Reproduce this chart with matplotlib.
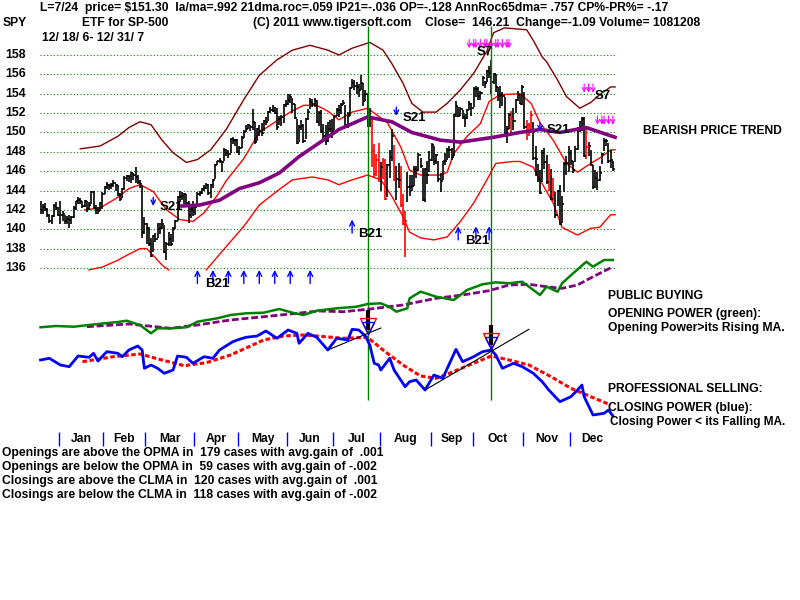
import matplotlib
matplotlib.use("Agg")
import matplotlib.pyplot as plt
import numpy as np

plt.rcParams['font.family'] = ['Liberation Sans', 'DejaVu Sans']
plt.rcParams['font.weight'] = 'bold'

# daily bars, day 0 = 12/18/06, last = 12/31/07
closes = [142.0, 142.3, 142.1, 141.5, 140.8, 141.4, 142.4, 142.2, 141.5,
          141.5, 141.6, 140.8, 141.1, 141.0, 141.3, 142.2, 142.9, 143.0, 142.9, 142.4, 142.9, 142.1, 142.5, 143.8, 142.2, 142.0, 141.9, 142.7, 143.6,
          144.4, 144.6, 144.5, 144.6, 144.8, 144.6, 143.6, 143.1, 144.2, 145.3, 145.5, 145.4, 145.8, 145.6, 145.4, 144.9, 144.7, 139.7, 140.5,
          140.1, 138.5, 137.2, 139.3, 139.0, 140.0, 140.1, 140.5, 137.6, 138.5, 139.0, 138.5, 140.0, 140.9, 143.3, 143.3, 143.4, 143.6, 142.7, 141.5, 142.1, 141.9,
          142.3, 143.6, 143.7, 144.2, 144.3, 144.6, 143.7, 144.6, 145.1, 146.6, 147.0, 147.1, 146.9, 148.2, 147.9, 147.8, 149.3, 149.2, 149.2, 148.0,
          148.4, 149.4, 150.0, 150.4, 150.8, 150.6, 151.1, 149.0, 150.4, 150.1, 149.9, 151.2, 151.1, 152.1, 152.3, 152.2, 152.0, 150.6, 151.4, 151.6, 152.8, 152.9,
          153.4, 153.7, 152.9, 151.5, 148.9, 150.6, 150.7, 149.1, 151.4, 152.1, 153.1, 152.9, 153.2, 151.1, 152.0, 150.1, 149.6, 149.1, 150.4, 150.4, 150.1,
          151.7, 152.3, 152.3, 152.8, 153.0, 150.8, 151.7, 154.6, 155.1, 154.8, 154.7, 154.4, 155.1, 153.2, 154.0, 150.9, 151.6, 148.1, 145.7, 147.2, 145.3,
          146.4, 147.0, 143.1, 146.6, 147.5, 149.6, 145.1, 145.2, 145.1, 142.5, 140.5, 140.9, 144.4, 144.4, 144.5, 146.2, 146.1, 147.7, 146.5, 143.0, 146.2, 145.6, 147.2,
          148.7, 147.0, 147.7, 145.2, 145.0, 147.0, 147.0, 148.2, 148.2, 147.5, 151.8, 152.7, 151.7, 152.4, 151.6, 151.5, 152.3, 152.9, 152.5,
          154.5, 154.5, 153.8, 154.1, 155.6, 155.1, 156.3, 156.1, 155.2, 156.0, 154.7, 153.7, 153.9, 153.8, 149.9, 150.4, 151.8, 151.4, 151.2, 153.3, 153.9, 152.9, 154.7,
          150.6, 150.8, 150.0, 151.8, 147.4, 147.3, 145.2, 143.7, 147.9, 146.9, 144.9, 145.7, 143.1, 143.8, 141.5, 143.9, 140.5, 142.6, 146.7, 146.8, 147.9,
          147.0, 146.1, 148.3, 150.5, 150.3, 151.4, 147.6, 148.5, 148.6, 146.6, 144.4, 145.3, 145.1, 145.8, 147.8, 149.1, 149.1, 147.0, 147.2, 146.2]
highs = [142.9, 142.6, 142.7, 142.2, 141.6, 141.5, 142.6, 142.8, 142.3,
         142.9, 141.9, 141.5, 141.4, 141.5, 141.4, 142.4, 142.9, 143.3, 143.2, 142.9, 143.0, 142.9, 142.8, 143.9, 143.9, 142.5, 142.3, 142.8, 143.8,
         144.5, 144.9, 144.7, 144.8, 145.1, 144.7, 144.6, 143.7, 144.3, 145.5, 145.6, 145.6, 145.9, 145.8, 146.4, 145.6, 145.1, 144.6, 141.3,
         140.6, 140.2, 139.1, 139.4, 139.6, 140.6, 140.6, 141.1, 140.4, 138.7, 139.7, 139.5, 140.2, 141.0, 143.4, 143.9, 143.8, 143.7, 143.6, 142.9, 142.5, 142.9,
         142.5, 143.8, 144.0, 144.3, 144.6, 144.8, 144.7, 144.7, 145.2, 146.7, 147.1, 147.4, 147.0, 148.4, 148.3, 148.2, 149.4, 149.5, 149.3, 149.3,
         148.6, 149.6, 150.3, 150.8, 150.9, 150.8, 152.4, 151.1, 150.5, 150.8, 151.0, 151.3, 151.6, 152.2, 152.6, 152.8, 152.6, 152.5, 151.7, 151.8, 152.9, 153.3,
         154.0, 154.0, 153.6, 152.9, 151.4, 150.8, 151.3, 150.9, 151.5, 152.4, 153.6, 153.5, 153.6, 153.3, 152.2, 152.3, 150.9, 150.8, 151.1, 151.3, 151.4,
         151.8, 152.5, 152.8, 153.0, 153.4, 152.8, 152.1, 154.7, 155.5, 155.4, 155.2, 155.0, 155.9, 155.1, 154.4, 154.0, 152.5, 151.5, 148.8, 147.8, 148.9,
         146.9, 147.4, 147.3, 146.7, 148.2, 150.4, 148.7, 146.5, 146.8, 146.5, 143.6, 141.9, 145.9, 145.6, 145.6, 146.5, 146.5, 147.9, 147.4, 146.3, 146.3, 147.0, 148.1,
         148.9, 148.6, 147.8, 147.1, 145.8, 147.1, 147.9, 148.4, 148.6, 148.4, 151.9, 153.2, 152.6, 152.6, 152.3, 151.9, 152.4, 153.2, 153.0,
         154.7, 154.8, 154.7, 154.3, 155.8, 155.3, 156.4, 156.9, 157.5, 156.1, 156.0, 154.7, 154.8, 154.2, 153.7, 150.7, 152.0, 152.2, 152.5, 153.5, 154.3, 154.0, 154.9,
         154.2, 151.3, 151.0, 152.2, 151.1, 148.6, 146.7, 146.1, 148.2, 148.4, 147.7, 146.7, 146.2, 145.3, 143.8, 144.1, 144.6, 143.4, 146.9, 147.6, 148.6,
         148.2, 147.1, 148.6, 150.6, 151.2, 151.6, 151.6, 150.6, 149.0, 148.2, 146.6, 146.1, 145.9, 146.5, 147.9, 149.4, 149.3, 148.9, 148.2, 147.1]
lows = [141.6, 141.6, 141.9, 141.3, 140.6, 140.5, 141.3, 142.0, 141.4,
        140.5, 140.9, 140.5, 140.5, 140.1, 140.5, 141.2, 142.0, 142.6, 142.6, 142.2, 142.3, 141.8, 142.0, 142.6, 142.1, 141.6, 141.6, 141.9, 142.1,
        143.6, 144.2, 144.1, 144.2, 144.4, 143.9, 143.4, 142.9, 143.2, 144.1, 145.0, 144.9, 144.8, 145.1, 144.8, 144.7, 144.3, 139.1, 139.5,
        138.5, 138.3, 137.1, 137.7, 138.7, 139.1, 139.5, 140.0, 137.5, 136.8, 138.3, 138.3, 138.7, 140.0, 140.8, 142.8, 143.0, 142.6, 142.4, 140.6, 141.2, 141.4,
        141.5, 142.4, 143.4, 143.6, 144.0, 144.2, 143.5, 143.2, 144.3, 145.2, 146.6, 146.8, 145.9, 147.0, 147.6, 147.4, 147.9, 148.8, 148.6, 147.9,
        147.7, 148.4, 149.4, 150.0, 150.4, 150.1, 150.3, 148.8, 149.1, 149.6, 149.6, 150.1, 150.8, 151.2, 152.0, 152.1, 151.9, 150.3, 150.8, 150.7, 151.0, 152.6,
        152.8, 153.0, 152.0, 151.4, 148.8, 149.0, 150.3, 148.9, 149.3, 151.3, 152.4, 152.6, 152.6, 151.0, 150.7, 149.9, 149.3, 148.7, 149.0, 150.0, 149.4,
        150.3, 151.7, 151.6, 151.9, 152.8, 150.7, 150.5, 151.7, 154.6, 154.4, 154.0, 153.7, 154.4, 152.7, 153.2, 150.6, 150.6, 146.4, 145.4, 145.5, 144.9,
        143.9, 145.2, 143.0, 143.3, 145.3, 147.0, 145.0, 143.0, 144.3, 142.3, 140.4, 137.1, 142.8, 143.4, 143.9, 144.5, 145.3, 146.0, 146.3, 142.9, 142.8, 144.7, 145.9,
        147.0, 146.6, 146.7, 144.9, 143.8, 145.1, 146.6, 147.2, 147.4, 147.2, 147.6, 151.6, 151.6, 151.7, 151.4, 150.6, 151.4, 152.3, 151.7,
        152.6, 153.7, 153.3, 153.3, 154.8, 154.6, 155.2, 155.6, 154.0, 155.0, 154.2, 153.2, 152.5, 152.7, 149.7, 148.9, 150.4, 149.7, 150.3, 152.0, 153.2, 152.9, 152.8,
        150.4, 149.2, 149.6, 150.2, 147.2, 145.5, 144.9, 143.6, 144.9, 146.2, 144.7, 144.0, 143.0, 142.9, 141.2, 142.4, 140.4, 140.6, 143.8, 145.6, 145.9,
        146.6, 145.8, 146.9, 148.2, 150.0, 150.1, 147.5, 147.3, 147.6, 146.5, 144.2, 144.3, 144.1, 145.0, 146.7, 148.1, 148.6, 146.8, 146.3, 146.0]
red_days = [150, 151, 152, 153, 155, 156, 160, 163, 164, 165, 213, 220, 221, 222, 230, 232, 247]

month_names = ['Jan', 'Feb', 'Mar', 'Apr', 'May', 'Jun', 'Jul', 'Aug', 'Sep', 'Oct', 'Nov', 'Dec']
month_start = [9, 29, 48, 70, 90, 112, 133, 154, 177, 196, 219, 240]
grid_prices = [136, 138, 140, 142, 144, 146, 148, 150, 152, 154, 156, 158]

# bands and moving average, read at a few days
outer_days = [18, 27, 35, 40, 45, 50, 55, 60, 66, 71, 77, 84, 92, 99, 107, 114, 122, 130, 135, 141, 149, 155, 159, 164, 168, 173, 179, 184, 190, 196, 202, 205, 210, 220, 223, 227, 229, 234, 238, 244, 249, 253, 258, 260]
outer_vals = [148.3, 148.6, 149.6, 150.5, 151.1, 150.8, 149.2, 147.9, 146.9, 147.2, 148.2, 150.3, 153.4, 155.9, 157.5, 158.5, 159.0, 158.5, 158.0, 158.7, 159.3, 158.5, 157.1, 155.1, 153.0, 152.1, 152.1, 153.0, 154.4, 156.1, 158.4, 160.3, 160.8, 160.6, 159.5, 157.8, 157.3, 155.4, 153.7, 152.5, 153.1, 153.9, 154.7, 154.7]
upper_days = [20, 27, 35, 40, 45, 51, 57, 63, 69, 74, 80, 84, 92, 99, 113, 119, 125, 130, 135, 141, 148, 157, 163, 167, 172, 181, 184, 187, 193, 199, 203, 208, 217, 222, 226, 232, 238, 243, 249, 254, 258, 260]
upper_vals = [142.0, 142.2, 143.3, 144.2, 144.6, 143.9, 142.0, 141.0, 140.8, 141.7, 143.5, 145.0, 147.3, 150.0, 152.1, 152.8, 152.8, 152.2, 151.3, 152.1, 152.5, 151.0, 148.5, 146.1, 145.6, 145.6, 145.9, 147.8, 149.6, 150.9, 153.2, 153.9, 154.0, 153.0, 151.0, 149.2, 146.8, 145.9, 146.8, 147.5, 148.2, 148.2]
lower_days = [22, 28, 35, 39, 45, 48, 51, 55, 58, 66, 75, 84, 92, 99, 108, 114, 123, 130, 135, 141, 148, 154, 159, 164, 167, 172, 178, 184, 190, 196, 202, 206, 214, 217, 223, 226, 232, 236, 243, 249, 253, 258, 260]
lower_vals = [135.8, 136.1, 136.8, 137.3, 138.0, 138.0, 137.3, 136.3, 135.8, np.nan, 135.8, 138.2, 140.3, 142.5, 144.1, 145.1, 145.4, 145.1, 144.6, 145.1, 145.6, 145.1, 143.4, 141.3, 139.7, 139.1, 138.9, 139.2, 140.8, 142.7, 145.1, 146.8, 147.0, 147.0, 146.4, 145.1, 142.7, 140.2, 139.4, 140.1, 140.2, 141.5, 141.5]
ma50_days = [64, 72, 81, 90, 99, 108, 117, 126, 135, 148, 159, 168, 181, 190, 205, 217, 226, 235, 247, 260]
ma50_vals = [142.4, 142.5, 143.0, 144.2, 144.8, 145.8, 147.5, 148.9, 150.3, 151.6, 151.1, 150.0, 149.2, 149.0, 149.5, 150.0, 150.3, 150.0, 150.5, 149.5]

# opening power (green) and closing power (blue), no scale shown
op_days = [0, 7, 15, 26, 35, 39, 45, 50, 53, 59, 66, 71, 80, 86, 93, 101, 108, 114, 119, 125, 134, 143, 148, 154, 158, 161, 166, 167, 172, 179, 187, 193, 200, 206, 212, 218, 223, 226, 229, 234, 236, 241, 247, 250, 255, 259]
op_vals = [92.7, 94, 93.3, 96, 98, 99.3, 95, 86.7, 91.7, 91.7, 92.7, 98.3, 101.7, 105, 106.7, 107.3, 111, 107.3, 105, 109.3, 111.7, 113.3, 116, 116.7, 113, 108.3, 111.7, 121.7, 128.3, 123.3, 120, 130, 135.7, 137.7, 136.7, 138.3, 130, 125, 133.3, 128.3, 136.7, 146.7, 158.3, 153.3, 160, 160]
opma_days = [21, 40, 59, 71, 86, 101, 116, 126, 137, 148, 164, 179, 191, 203, 212, 221, 231, 236, 243, 250, 259]
opma_vals = [93.3, 96, 91.7, 95, 100, 103.3, 106.7, 109, 108.3, 110.7, 115, 121.7, 125, 129.3, 135, 135.7, 132.7, 131.7, 135, 143.3, 153.3]
cp_days = [0, 4, 9, 13, 17, 22, 24, 26, 30, 35, 37, 40, 44, 46, 47, 50, 53, 56, 60, 62, 66, 69, 74, 78, 81, 87, 90, 93, 98, 102, 107, 112, 116, 117, 121, 125, 130, 134, 139, 141, 144, 147, 149, 151, 153, 154, 158, 160, 165, 167, 170, 174, 178, 182, 188, 191, 196, 200, 204, 206, 209, 214, 218, 223, 227, 230, 235, 240, 243, 245, 246, 250, 255, 257, 259]
cp_vals = [60, 61.7, 55, 53.3, 64, 62.7, 66.7, 59, 68.3, 66.7, 63.3, 70, 74, 70, 51.7, 55, 51.7, 46.7, 50, 64, 62.7, 56.7, 63.3, 61.7, 70, 78.3, 80.7, 82.7, 84, 89, 81.7, 90, 86.7, 76.7, 86.7, 82.7, 70, 81.7, 80, 90.7, 90, 84, 75, 56.7, 55, 50, 61.7, 50, 33.3, 38.3, 40, 30, 45, 41.7, 70.7, 58.3, 63.3, 68.3, 70, 65, 51.7, 56.7, 53.3, 46.7, 38.3, 30, 18.3, 23.3, 30, 35, 23.3, 5, 6.7, 10, 4]
cpma_days = [19, 33, 45, 55, 65, 75, 86, 101, 110, 119, 125, 137, 148, 155, 164, 172, 179, 185, 194, 204, 212, 221, 231, 240, 249, 258]
cpma_vals = [58.3, 63.3, 66, 60, 54.3, 57.3, 65, 80, 84, 85, 84, 81.7, 82.7, 70, 55, 44, 41.7, 46.7, 55, 64, 60, 55, 43.3, 31.7, 23.3, 15]
trend_days = [[130, 154], [174, 221]]
trend_vals = [[70, 92], [30, 90.7]]

# signals
sell_days = [148, 204]
b21_days = [71, 78, 85, 92, 99, 106, 113, 122, 141, 189, 197, 203]
b21_tail = [134.4] * 8 + [139.6, 138.9, 138.9, 138.9]
s21_days = [51, 161, 226]
s21_top = [143.3, 152.6, 151.0]
s7_groups = [[194, 196, 197, 199, 201, 202, 204, 206, 207, 209, 211, 212], [246, 248, 250], [252, 254, 255, 257, 259]]
s7_top = [159.6, 155.0, 151.7]

fig = plt.figure(figsize=(8, 6), dpi=100)
fig.patch.set_facecolor('white')
ax = fig.add_axes([0, 0, 1, 1])
ax2 = fig.add_axes([0, 0, 1, 1])
for a in (ax, ax2):
    a.set_xlim(-40.5 / 2.21, (800 - 40.5) / 2.21)
    a.axis('off')
    a.patch.set_alpha(0)
ax.set_ylim(101.70, 163.68)
ax2.set_ylim(-180, 420)


def px(x, y):
    return x / 800, 1 - y / 600


def put(x, y, s, size=8.7, **kw):
    fig.text(*px(x, y), s, fontsize=size, fontweight='bold', va='center', ha='left', **kw)


ax.hlines(grid_prices, -0.2, 260, color='#008000', lw=0.8, linestyle=(0, (1, 2)), zorder=1)

ax.plot(outer_days, outer_vals, color='#800000', lw=1.0, zorder=2)
ax.plot(upper_days, upper_vals, color='red', lw=1.0, zorder=2)
ax.plot(lower_days, lower_vals, color='red', lw=1.0, zorder=2)

x = np.arange(len(closes))
cols = ['red' if i in red_days else 'black' for i in x]
ax.vlines(x, lows, highs, colors=cols, lw=1.2, zorder=3)
ax.hlines(closes, x, x + 1.0, colors=cols, lw=1.2, zorder=3)

ax.plot(ma50_days, ma50_vals, color='#800080', lw=2.6, zorder=4)

# sell lines
ax.vlines(sell_days, 1 - 400 / 600, 1 - 26 / 600, transform=ax.get_xaxis_transform(), color='#008000', lw=1.0, zorder=5)

# power lines
ax2.plot(opma_days, opma_vals, color='#800080', lw=2.0, linestyle=(0, (2.5, 1)), zorder=3)
ax2.plot(op_days, op_vals, color='#008000', lw=1.8, zorder=4)
ax2.plot(cpma_days, cpma_vals, color='red', lw=2.2, linestyle=(0, (1.5, 0.8)), zorder=3)
ax2.plot(cp_days, cp_vals, color='blue', lw=2.0, zorder=4)
for d, v in zip(trend_days, trend_vals):
    ax2.plot(d, v, color='black', lw=0.8, zorder=5)
ax2.vlines(sell_days[0], 90, 110, color='black', lw=3, zorder=6)
ax2.vlines(sell_days[1], 75, 95, color='black', lw=3, zorder=6)
ax2.plot([sell_days[0]], [94], marker='v', ms=11, mfc='none', mec='red', mew=1, zorder=7)
ax2.plot([sell_days[0]], [92], marker='v', ms=9, mfc='none', mec='blue', mew=1, zorder=7)
ax2.plot([sell_days[1]], [79], marker='v', ms=11, mfc='none', mec='red', mew=1, zorder=7)
ax2.plot([sell_days[1]], [77], marker='v', ms=9, mfc='none', mec='blue', mew=1, zorder=7)

# buy/sell arrows
for d, t in zip(b21_days, b21_tail):
    ax.annotate('', xy=(d, t + 1.4), xytext=(d, t),
                arrowprops=dict(arrowstyle='->', color='blue', lw=1, shrinkA=0, shrinkB=0, mutation_scale=9), zorder=6)
for d, t in zip(s21_days, s21_top):
    ax.annotate('', xy=(d, t - 0.9), xytext=(d, t),
                arrowprops=dict(arrowstyle='->', color='blue', lw=1, shrinkA=0, shrinkB=0, mutation_scale=8), zorder=6)
for grp, t in zip(s7_groups, s7_top):
    for d in grp:
        ax.annotate('', xy=(d, t - 0.9), xytext=(d, t),
                    arrowprops=dict(arrowstyle='->', color='magenta', lw=0.8, shrinkA=0, shrinkB=0, mutation_scale=7), zorder=6)

put(160, 207, 'S21', 9.5)
put(205, 284, 'B21', 9.5)
put(358, 234, 'B21', 9.5)
put(403, 118, 'S21', 9.5)
put(465, 241, 'B21', 9.5)
put(547, 130, 'S21', 9.5)
put(477, 52, 'S7', 9.5)
put(595, 96, 'S7', 9.5)

# price scale labels
for p in grid_prices:
    put(5, 55 + (158 - p) * 9.68, str(p), 8.8)

# months
ax.vlines([m - 0.5 for m in month_start], 1 - 446 / 600, 1 - 432 / 600, transform=ax.get_xaxis_transform(), color='blue', lw=1.0)
ends = month_start[1:] + [len(closes)]
for name, a, b in zip(month_names, month_start, ends):
    ax.text((a + b) / 2 - 0.5, 1 - 439 / 600, name, transform=ax.get_xaxis_transform(), ha='center', va='center', fontsize=8.7, fontweight='bold')

# header
put(40, 8, 'L=7/24  price= $151.30  la/ma=.992 21dma.roc=.059 IP21=-.036 OP=-.128 AnnRoc65dma= .757 CP%-PR%= -.17')
put(3, 23, 'SPY')
put(82, 23, 'ETF for SP-500')
put(253, 23, '(C) 2011 www.tigersoft.com')
put(425, 23, 'Close=  146.21  Change=-1.09 Volume= 1081208')
put(42, 38, '12/ 18/ 6- 12/ 31/ 7')

put(643, 131, 'BEARISH PRICE TREND', 8.7)
put(608, 296, 'PUBLIC BUYING', 8.7)
put(608, 314, 'OPENING POWER (green):', 8.7)
put(608, 328, 'Opening Power>its Rising MA.', 8.7)
put(608, 389, 'PROFESSIONAL SELLING:', 8.7)
put(608, 408, 'CLOSING POWER (blue):', 8.7)
put(610, 422, 'Closing Power < its Falling MA.', 8.5)

put(2, 453, 'Openings are above the OPMA in  179 cases with avg.gain of  .001', 8.7)
put(2, 467, 'Openings are below the OPMA in  59 cases with avg.gain of -.002', 8.7)
put(2, 481, 'Closings are above the CLMA in  120 cases with avg.gain of  .001', 8.7)
put(2, 495, 'Closings are below the CLMA in  118 cases with avg.gain of -.002', 8.7)

fig.savefig('out.png', dpi=100)
